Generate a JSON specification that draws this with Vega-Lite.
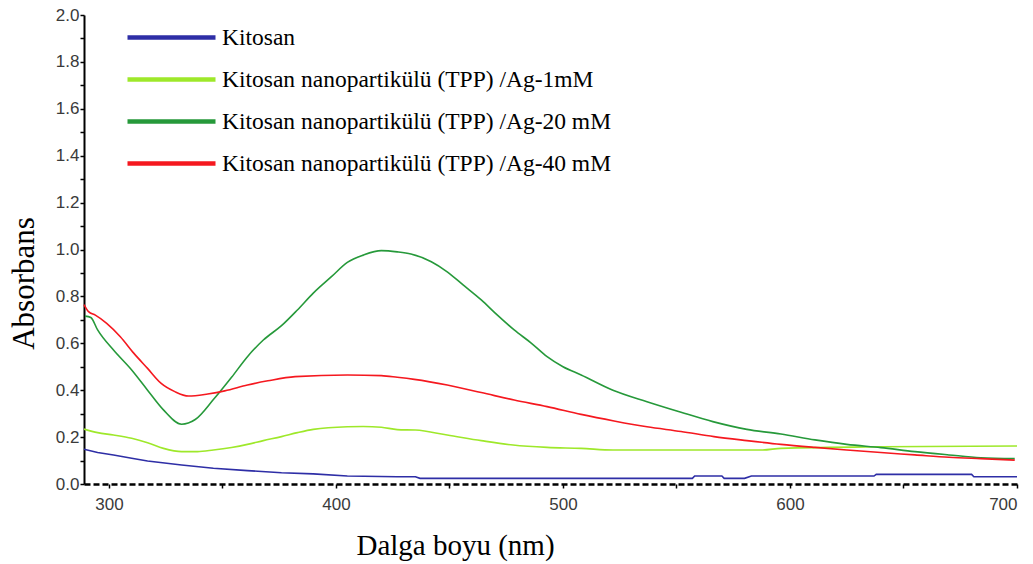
{
  "$schema": "https://vega.github.io/schema/vega-lite/v6.json",
  "autosize": {"type": "none"},
  "padding": {"left": 84, "top": 15, "right": 16, "bottom": 80},
  "width": 933,
  "height": 469,
  "background": "white",
  "config": {"view": {"stroke": null}},
  "datasets": {
    "k": [
      {"wl": 289, "abs": 0.148}, {"wl": 295, "abs": 0.134}, {"wl": 302, "abs": 0.124}, {"wl": 310, "abs": 0.110},
      {"wl": 317, "abs": 0.098}, {"wl": 332, "abs": 0.081}, {"wl": 346, "abs": 0.067}, {"wl": 361, "abs": 0.057},
      {"wl": 376, "abs": 0.048}, {"wl": 390, "abs": 0.043}, {"wl": 405, "abs": 0.034}, {"wl": 427, "abs": 0.031},
      {"wl": 435, "abs": 0.031}, {"wl": 437, "abs": 0.024}, {"wl": 557, "abs": 0.024}, {"wl": 558, "abs": 0.034},
      {"wl": 570, "abs": 0.034}, {"wl": 571, "abs": 0.024}, {"wl": 580, "abs": 0.024}, {"wl": 583, "abs": 0.034},
      {"wl": 637, "abs": 0.034}, {"wl": 638, "abs": 0.041}, {"wl": 680, "abs": 0.041}, {"wl": 681, "abs": 0.031},
      {"wl": 700, "abs": 0.031}
    ],
    "a1": [
      {"wl": 289, "abs": 0.234}, {"wl": 295, "abs": 0.219}, {"wl": 302, "abs": 0.209}, {"wl": 310, "abs": 0.195},
      {"wl": 317, "abs": 0.176}, {"wl": 324, "abs": 0.152}, {"wl": 332, "abs": 0.138}, {"wl": 339, "abs": 0.138},
      {"wl": 346, "abs": 0.145}, {"wl": 354, "abs": 0.156}, {"wl": 361, "abs": 0.169}, {"wl": 368, "abs": 0.185},
      {"wl": 376, "abs": 0.202}, {"wl": 383, "abs": 0.219}, {"wl": 390, "abs": 0.233}, {"wl": 405, "abs": 0.244},
      {"wl": 412, "abs": 0.245}, {"wl": 420, "abs": 0.242}, {"wl": 427, "abs": 0.232}, {"wl": 435, "abs": 0.230},
      {"wl": 449, "abs": 0.209}, {"wl": 464, "abs": 0.185}, {"wl": 478, "abs": 0.166}, {"wl": 493, "abs": 0.156},
      {"wl": 508, "abs": 0.152}, {"wl": 522, "abs": 0.145}, {"wl": 588, "abs": 0.145}, {"wl": 596, "abs": 0.152},
      {"wl": 640, "abs": 0.159}, {"wl": 700, "abs": 0.162}
    ],
    "a20": [
      {"wl": 289.5, "abs": 0.716}, {"wl": 292, "abs": 0.71}, {"wl": 295, "abs": 0.657}, {"wl": 302, "abs": 0.571},
      {"wl": 310, "abs": 0.486}, {"wl": 317, "abs": 0.40}, {"wl": 324, "abs": 0.316}, {"wl": 332, "abs": 0.255},
      {"wl": 338, "abs": 0.275}, {"wl": 346, "abs": 0.36}, {"wl": 354, "abs": 0.455}, {"wl": 361, "abs": 0.543},
      {"wl": 368, "abs": 0.614}, {"wl": 376, "abs": 0.675}, {"wl": 383, "abs": 0.742}, {"wl": 390, "abs": 0.814},
      {"wl": 398, "abs": 0.884}, {"wl": 405, "abs": 0.945}, {"wl": 412, "abs": 0.976}, {"wl": 420, "abs": 0.995},
      {"wl": 427, "abs": 0.99}, {"wl": 433, "abs": 0.981}, {"wl": 442, "abs": 0.948}, {"wl": 449, "abs": 0.905},
      {"wl": 456, "abs": 0.849}, {"wl": 464, "abs": 0.785}, {"wl": 471, "abs": 0.721}, {"wl": 478.5, "abs": 0.657},
      {"wl": 486, "abs": 0.601}, {"wl": 493, "abs": 0.543}, {"wl": 500, "abs": 0.50}, {"wl": 508, "abs": 0.465},
      {"wl": 522, "abs": 0.40}, {"wl": 537, "abs": 0.351}, {"wl": 552, "abs": 0.306}, {"wl": 566, "abs": 0.266},
      {"wl": 581, "abs": 0.233}, {"wl": 596, "abs": 0.213}, {"wl": 611, "abs": 0.188}, {"wl": 625, "abs": 0.169},
      {"wl": 640, "abs": 0.155}, {"wl": 655, "abs": 0.138}, {"wl": 670, "abs": 0.124}, {"wl": 684, "abs": 0.112},
      {"wl": 699, "abs": 0.108}
    ],
    "a40": [
      {"wl": 289, "abs": 0.765}, {"wl": 291, "abs": 0.735}, {"wl": 294, "abs": 0.72}, {"wl": 299, "abs": 0.685},
      {"wl": 305, "abs": 0.628}, {"wl": 311, "abs": 0.557}, {"wl": 317, "abs": 0.493}, {"wl": 323, "abs": 0.429},
      {"wl": 329, "abs": 0.394}, {"wl": 335, "abs": 0.375}, {"wl": 343.5, "abs": 0.384}, {"wl": 351, "abs": 0.397},
      {"wl": 361, "abs": 0.422}, {"wl": 370, "abs": 0.44}, {"wl": 382, "abs": 0.458}, {"wl": 405, "abs": 0.465},
      {"wl": 420, "abs": 0.462}, {"wl": 427, "abs": 0.455}, {"wl": 434.5, "abs": 0.446}, {"wl": 449, "abs": 0.422},
      {"wl": 464, "abs": 0.39}, {"wl": 478.5, "abs": 0.358}, {"wl": 493, "abs": 0.33}, {"wl": 508, "abs": 0.297},
      {"wl": 522.5, "abs": 0.269}, {"wl": 537, "abs": 0.244}, {"wl": 552, "abs": 0.224}, {"wl": 566.5, "abs": 0.202},
      {"wl": 581, "abs": 0.185}, {"wl": 596, "abs": 0.169}, {"wl": 611, "abs": 0.156}, {"wl": 625, "abs": 0.145},
      {"wl": 640, "abs": 0.134}, {"wl": 655, "abs": 0.124}, {"wl": 670, "abs": 0.114}, {"wl": 684, "abs": 0.108},
      {"wl": 699, "abs": 0.102}
    ]
  },
  "encoding": {
    "x": {
      "field": "wl", "type": "quantitative",
      "scale": {"domain": [289, 700], "nice": false, "zero": false},
      "axis": {
        "title": "Dalga boyu (nm)",
        "values": [300, 350, 400, 450, 500, 550, 600, 650, 700],
        "labelExpr": "datum.value % 100 === 0 ? datum.label : ''",
        "grid": false,
        "domainColor": "black", "domainWidth": 2.5, "domainDash": [6, 3],
        "tickColor": "black", "tickSize": 4, "tickWidth": 1.5,
        "labelFont": "Liberation Sans", "labelFontSize": 17, "labelColor": "#3a3a3a", "labelPadding": 8,
        "titleFont": "Liberation Serif", "titleFontSize": 29, "titleFontWeight": "normal", "titleColor": "black",
        "titleX": 371, "titleY": 70, "titleBaseline": "alphabetic", "titleAnchor": null
      }
    },
    "y": {
      "field": "abs", "type": "quantitative",
      "scale": {"domain": [0, 2], "nice": false},
      "axis": {
        "title": "Absorbans",
        "values": [0, 0.1, 0.2, 0.3, 0.4, 0.5, 0.6, 0.7, 0.8, 0.9, 1.0, 1.1, 1.2, 1.3, 1.4, 1.5, 1.6, 1.7, 1.8, 1.9, 2.0],
        "format": ".1f",
        "labelExpr": "round(datum.value * 10) % 2 === 0 ? datum.label : ''",
        "grid": false,
        "domainColor": "black", "domainWidth": 2,
        "tickColor": "black", "tickSize": 4, "tickWidth": 1.5,
        "labelFont": "Liberation Sans", "labelFontSize": 17, "labelColor": "#3a3a3a", "labelPadding": 1,
        "titleFont": "Liberation Serif", "titleFontSize": 31, "titleFontWeight": "normal", "titleColor": "black",
        "titleAngle": -90, "titleX": -51, "titleY": 268, "titleBaseline": "alphabetic", "titleAnchor": null, "titleAlign": "center"
      }
    },
    "color": {
      "field": "series", "type": "nominal",
      "scale": {
        "domain": ["Kitosan", "Kitosan nanopartikülü (TPP) /Ag-1mM", "Kitosan nanopartikülü (TPP) /Ag-20 mM", "Kitosan nanopartikülü (TPP) /Ag-40 mM"],
        "range": ["#2e2ea6", "#9ee82a", "#26993a", "#f5181f"]
      },
      "legend": {
        "title": null, "orient": "none", "legendX": 41, "legendY": 9, "padding": 0,
        "symbolType": "M-1,0H7", "symbolSize": 484, "symbolStrokeWidth": 4.5,
        "labelFont": "Liberation Serif", "labelFontSize": 23.5, "labelColor": "black",
        "labelOffset": 70, "rowPadding": 17, "labelLimit": 700
      }
    }
  },
  "layer": [
    {"data": {"name": "k"}, "transform": [{"calculate": "'Kitosan'", "as": "series"}], "mark": {"type": "line", "strokeWidth": 1.6}},
    {"data": {"name": "a1"}, "transform": [{"calculate": "'Kitosan nanopartikülü (TPP) /Ag-1mM'", "as": "series"}], "mark": {"type": "line", "strokeWidth": 1.6, "interpolate": "monotone"}},
    {"data": {"name": "a20"}, "transform": [{"calculate": "'Kitosan nanopartikülü (TPP) /Ag-20 mM'", "as": "series"}], "mark": {"type": "line", "strokeWidth": 1.6, "interpolate": "monotone"}},
    {"data": {"name": "a40"}, "transform": [{"calculate": "'Kitosan nanopartikülü (TPP) /Ag-40 mM'", "as": "series"}], "mark": {"type": "line", "strokeWidth": 1.6, "interpolate": "monotone"}}
  ]
}
